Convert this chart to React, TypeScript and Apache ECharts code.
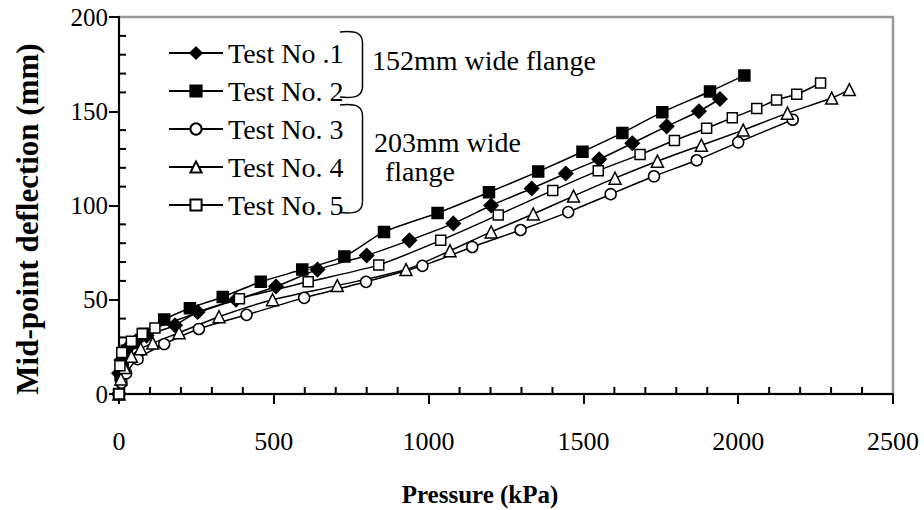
import React, { useEffect, useRef } from "react";
import * as echarts from "echarts";

const seriesNames = ["Test No .1", "Test No. 2", "Test No. 3", "Test No. 4", "Test No. 5"];

const pressure1 = [0, 0, 8, 25, 55, 89, 181, 254, 378, 507, 641, 800, 938, 1080, 1202, 1333, 1443, 1551, 1658, 1769, 1873, 1941];
const defl1 = [0, 11, 18, 24, 28, 31, 36.5, 43.5, 50, 57, 66, 73.5, 81.5, 90.5, 100, 109, 117, 124.5, 133, 142, 150, 156.5];

const pressure2 = [0, 5, 12, 25, 44, 79, 146, 229, 335, 458, 592, 728, 856, 1029, 1195, 1354, 1497, 1626, 1755, 1909, 2020];
const defl2 = [0, 10, 17, 23, 27, 32, 39.5, 45.5, 51.5, 59.5, 66, 73, 86, 96, 107, 118, 128.5, 138.5, 149.5, 160.5, 169];

const pressure3 = [0, 8, 23, 60, 146, 258, 412, 598, 798, 980, 1141, 1297, 1451, 1588, 1728, 1866, 2000, 2176];
const defl3 = [0, 6, 11, 18.5, 26.5, 34.5, 42, 51, 59.5, 68, 78, 87, 96.5, 106, 115.5, 124, 133.5, 145.5];

const pressure4 = [0, 6, 18, 40, 70, 109, 194, 323, 496, 705, 927, 1069, 1202, 1338, 1468, 1602, 1739, 1881, 2016, 2159, 2302, 2359];
const defl4 = [0, 8, 14, 20, 24, 27, 32.5, 41, 50, 57.5, 66, 76, 86, 95.5, 105, 114.5, 123.5, 132, 140, 149, 157, 161.5];

const pressure5 = [0, 3, 9, 40, 75, 116, 389, 611, 839, 1039, 1225, 1401, 1548, 1683, 1794, 1898, 1981, 2060, 2124, 2189, 2266];
const defl5 = [0, 15, 22, 28, 32, 35, 50.5, 59.5, 68.5, 81.5, 95, 108, 118.5, 127, 134.5, 141, 146.5, 151.5, 156, 159, 165];

const xMin = 0;
const xMax = 2500;
const xMajor = 500;
const yMin = 0;
const yMax = 200;
const yMajor = 50;
const minorSplits = 5;

const xTitle = "Pressure (kPa)";
const yTitle = "Mid-point deflection (mm)";
const note1 = "152mm wide flange";
const note2a = "203mm wide";
const note2b = "flange";

const FONT = "Liberation Serif";

const zip = (xs: number[], ys: number[]) => xs.map((x, i) => [x, ys[i]]);

const textEl = (x: number, y: number, text: string, size: number, extra: any = {}, styleExtra: any = {}) => ({
  type: "text",
  x,
  y,
  ...extra,
  style: {
    text,
    fontFamily: FONT,
    fontSize: size,
    fill: "#000",
    textVerticalAlign: "middle",
    ...styleExtra,
  },
});

const braceStroke = { fill: "none", stroke: "#000", lineWidth: 1.5 };
const brace = (x0: number, xr: number, top: number, bottom: number) => [
  { type: "bezierCurve", shape: { x1: x0, y1: top, cpx1: x0 + 16, cpy1: top - 1.5, cpx2: xr, cpy2: top + 1, x2: xr, y2: top + 11 }, style: braceStroke },
  { type: "line", shape: { x1: xr, y1: top + 11, x2: xr, y2: bottom - 11 }, style: braceStroke },
  { type: "bezierCurve", shape: { x1: xr, y1: bottom - 11, cpx1: xr, cpy1: bottom - 1, cpx2: x0 + 16, cpy2: bottom + 1.5, x2: x0, y2: bottom }, style: braceStroke },
];

export default function App() {
  const ref = useRef<HTMLDivElement>(null);
  useEffect(() => {
    document.body.style.margin = "0";
    const chart = echarts.init(ref.current!, undefined, { renderer: "svg" });
    const symbols = [
      { symbol: "diamond", size: 14, fill: "#000" },
      { symbol: "rect", size: 11, fill: "#000" },
      { symbol: "circle", size: 11, fill: "#fff" },
      { symbol: "triangle", size: 12, fill: "#fff" },
      { symbol: "rect", size: 10, fill: "#fff" },
    ];
    const datas = [
      zip(pressure1, defl1),
      zip(pressure2, defl2),
      zip(pressure3, defl3),
      zip(pressure4, defl4),
      zip(pressure5, defl5),
    ];
    const series = datas.map((d, i) => ({
      name: seriesNames[i],
      type: "line",
      data: d,
      smooth: 0.25,
      symbol: symbols[i].symbol,
      symbolSize: symbols[i].size,
      showAllSymbol: true,
      lineStyle: { color: "#000", width: 1.5 },
      itemStyle: { color: symbols[i].fill, borderColor: "#000", borderWidth: 1.5 },
    }));
    const fmt = (v: number) => String(v);
    chart.setOption({
      animation: false,
      backgroundColor: "#fff",
      grid: { left: 119, right: 31, top: 17, bottom: 116, show: true, borderColor: "#999", borderWidth: 2.5 },
      legend: {
        orient: "vertical",
        left: 163,
        top: 29,
        itemWidth: 54,
        itemHeight: 14,
        itemGap: 0,
        textStyle: { fontFamily: FONT, fontSize: 28, color: "#000", lineHeight: 38 },
        data: seriesNames,
      },
      xAxis: {
        type: "value",
        min: xMin,
        max: xMax,
        interval: xMajor,
        axisLine: { show: true, lineStyle: { color: "#000", width: 2 } },
        axisTick: { show: true, inside: false, length: 10, lineStyle: { color: "#000", width: 2 } },
        axisLabel: { color: "#000", fontFamily: FONT, fontSize: 26, margin: 34, formatter: fmt },
        splitLine: { show: false },
      },
      yAxis: {
        type: "value",
        min: yMin,
        max: yMax,
        interval: yMajor,
        axisLine: { show: true, lineStyle: { color: "#000", width: 2 } },
        axisTick: { show: true, inside: false, length: 10, lineStyle: { color: "#000", width: 2 } },
        axisLabel: { color: "#000", fontFamily: FONT, fontSize: 25, margin: 11, formatter: fmt },
        splitLine: { show: false },
      },
      series,
    });

    const px = (v: number) => Number(chart.convertToPixel({ xAxisIndex: 0 }, v));
    const py = (v: number) => Number(chart.convertToPixel({ yAxisIndex: 0 }, v));
    const x0 = px(xMin);
    const y0 = py(yMin);
    const tickStyle = { stroke: "#000", lineWidth: 2 };
    const ticks: any[] = [];
    if (isFinite(x0) && isFinite(y0)) {
      const xStep = xMajor / minorSplits;
      for (let v = xMin + xStep; v < xMax; v += xStep) {
        if (Math.abs(v % xMajor) < 1e-9) continue;
        const x = px(v);
        ticks.push({ type: "line", shape: { x1: x, y1: y0, x2: x, y2: y0 - 7 }, style: tickStyle });
      }
      const yStep = yMajor / minorSplits;
      for (let v = yMin + yStep; v < yMax; v += yStep) {
        if (Math.abs(v % yMajor) < 1e-9) continue;
        const y = py(v);
        ticks.push({ type: "line", shape: { x1: x0, y1: y, x2: x0 + 7, y2: y }, style: tickStyle });
      }
    }

    chart.setOption({
      graphic: [
        ...ticks,
        ...brace(340, 362.5, 32, 97),
        ...brace(340, 362.5, 105, 212.5),
        textEl(372, 60, note1, 28),
        textEl(374, 142, note2a, 28),
        textEl(385, 171, note2b, 28),
        textEl(480, 494, xTitle, 25, {}, { fontWeight: "bold", textAlign: "center" }),
        textEl(27, 219, yTitle, 31, { rotation: Math.PI / 2 }, { fontWeight: "bold", textAlign: "center" }),
      ],
    });
    return () => chart.dispose();
  }, []);
  return <div ref={ref} style={{ width: 924, height: 510 }} />;
}
